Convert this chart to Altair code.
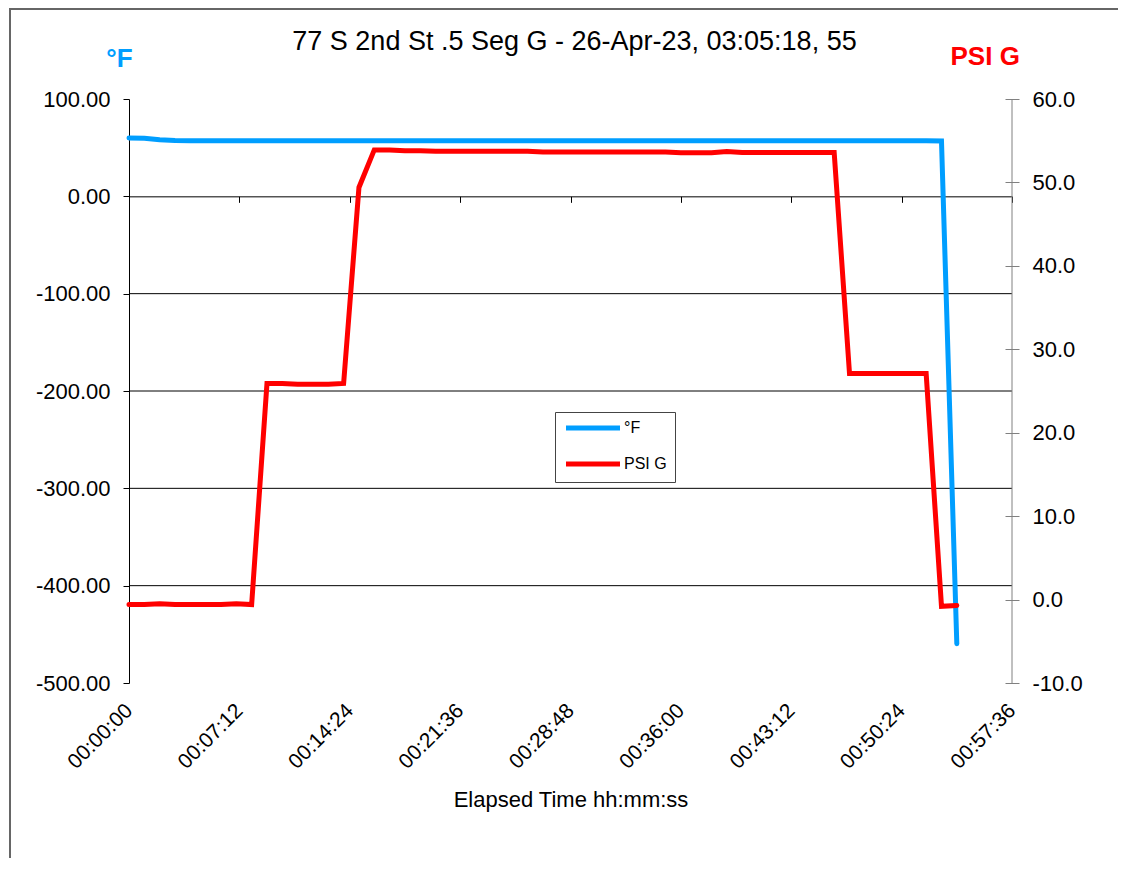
import altair as alt
import pandas as pd

# ---------------- data ----------------
elapsed_min = [0, 1, 2, 3, 4, 5, 6, 7, 8, 9,
               10, 11, 12, 13, 14, 15, 16, 17, 18, 19,
               20, 21, 22, 23, 24, 25, 26, 27, 28, 29,
               30, 31, 32, 33, 34, 35, 36, 37, 38, 39,
               40, 41, 42, 43, 44, 45, 46, 47, 48, 49,
               50, 51, 52, 53, 54]

deg_f = [60.0, 59.7, 58.2, 57.4, 57.2, 57.2, 57.2, 57.2, 57.2, 57.2,
         57.2, 57.2, 57.2, 57.2, 57.2, 57.2, 57.2, 57.2, 57.2, 57.2,
         57.2, 57.2, 57.2, 57.2, 57.2, 57.2, 57.2, 57.2, 57.2, 57.2,
         57.2, 57.2, 57.2, 57.2, 57.2, 57.2, 57.2, 57.2, 57.2, 57.2,
         57.2, 57.2, 57.2, 57.2, 57.2, 57.2, 57.2, 57.2, 57.2, 57.2,
         57.2, 57.2, 57.2, 56.9, -459.7]

psi_g = [-0.6, -0.6, -0.5, -0.6, -0.6, -0.6, -0.6, -0.5, -0.6, 25.9,
         25.9, 25.8, 25.8, 25.8, 25.9, 49.4, 53.9, 53.9, 53.8, 53.8,
         53.75, 53.75, 53.75, 53.75, 53.75, 53.75, 53.75, 53.65, 53.65, 53.65,
         53.65, 53.65, 53.65, 53.65, 53.65, 53.65, 53.55, 53.55, 53.55, 53.7,
         53.6, 53.6, 53.6, 53.6, 53.6, 53.6, 53.6, 27.1, 27.1, 27.1,
         27.1, 27.1, 27.1, -0.8, -0.7]

x_tick_seconds = [0, 432, 864, 1296, 1728, 2160, 2592, 3024, 3456]
left_ticks = [100, 0, -100, -200, -300, -400, -500]
grid_values = [-100, -200, -300, -400]
right_ticks = [60, 50, 40, 30, 20, 10, 0, -10]

series_names = ["°F", "PSI G"]
title_text = "77 S 2nd St .5 Seg G - 26-Apr-23, 03:05:18, 55"

# ---------------- styling ----------------
W, H = 883, 584
FONT = "Liberation Sans"
BLUE = "#009EFF"
RED = "#FF0000"
LW = 5

df = pd.DataFrame({
    "t": [m * 60 for m in elapsed_min],
    "degF": deg_f,
    "psi": psi_g,
})
grid_df = pd.DataFrame({"degF": grid_values})

x_enc = alt.X(
    "t:Q",
    scale=alt.Scale(domain=[0, 3456], nice=False, zero=False),
    axis=alt.Axis(
        values=x_tick_seconds,
        labelExpr="utcFormat(datum.value*1000, '%H:%M:%S')",
        orient="bottom",
        offset=-486.667,
        domain=True, domainColor="black", domainWidth=1,
        ticks=True, tickSize=6, tickColor="black", tickWidth=1,
        labelAngle=-45, labelAlign="right", labelBaseline="middle",
        labelPadding=505, labelFontSize=21, labelFont=FONT, labelColor="black",
        labelOverlap=False, labelFlush=False,
        grid=False,
        title="Elapsed Time hh:mm:ss", titleFont=FONT, titleFontSize=22,
        titleFontWeight="normal", titleColor="black",
        titleX=W / 2, titleY=610.4, titleAlign="center", titleBaseline="alphabetic",
    ),
)

left_scale = alt.Scale(domain=[-500, 100], nice=False, zero=False)
color_scale = alt.Scale(domain=series_names, range=[BLUE, RED])
legend = alt.Legend(
    orient="none", legendX=426, legendY=313, title=None, direction="vertical",
    padding=8, strokeColor="#444444", fillColor="white", cornerRadius=0,
    symbolType="M-5.4,0L5.4,0", symbolSize=100, symbolStrokeWidth=LW,
    symbolOffset=22, labelOffset=23, labelFontSize=16, labelFont=FONT,
    labelColor="black", rowPadding=16,
)

blue_line = alt.Chart(df).transform_calculate(series="'°F'").mark_line(
    strokeWidth=LW, strokeCap="round", strokeJoin="miter"
).encode(
    x=x_enc,
    y=alt.Y(
        "degF:Q",
        scale=left_scale,
        axis=alt.Axis(
            values=left_ticks,
            labelExpr="replace(format(datum.value, '.2f'), '\u2212', '-')",
            orient="left",
            domain=True, domainColor="black", domainWidth=1,
            ticks=True, tickSize=6, tickColor="black",
            labelPadding=13, labelFontSize=22, labelFont=FONT, labelColor="black",
            grid=False,
            title="°F", titleAngle=0, titleX=-10, titleY=-32.5,
            titleAlign="center", titleBaseline="alphabetic",
            titleColor=BLUE, titleFontSize=26, titleFontWeight="bold", titleFont=FONT,
        ),
    ),
    color=alt.Color("series:N", scale=color_scale, legend=legend),
)

grid_rules = alt.Chart(grid_df).mark_rule(color="black", strokeWidth=1).encode(
    y=alt.Y("degF:Q", scale=left_scale),
    x=alt.XDatum(0),
    x2=alt.X2Datum(3456),
)

frame = alt.Chart(alt.Data(values=[{}])).mark_rect(
    fillOpacity=0, stroke="#666666", strokeWidth=2
).encode(
    x=alt.value(-119), x2=alt.value(1300), y=alt.value(-90), y2=alt.value(1000)
)

right_domain = alt.Chart(alt.Data(values=[{}])).mark_rule(color="#808080", strokeWidth=1).encode(
    x=alt.XDatum(3456), y=alt.value(0), y2=alt.value(H)
)

red_line = alt.Chart(df).transform_calculate(series="'PSI G'").mark_line(
    strokeWidth=LW, strokeCap="round", strokeJoin="miter"
).encode(
    x=x_enc,
    y=alt.Y(
        "psi:Q",
        scale=alt.Scale(domain=[-10, 60], nice=False, zero=False),
        axis=alt.Axis(
            values=right_ticks,
            labelExpr="replace(format(datum.value, '.1f'), '\u2212', '-')",
            orient="right", offset=-7,
            domain=False,
            ticks=True, tickSize=14, tickColor="#808080",
            labelPadding=13, labelFontSize=22, labelFont=FONT, labelColor="black",
            grid=False,
            title="PSI G", titleAngle=0, titleX=-20.3, titleY=-35,
            titleAlign="center", titleBaseline="alphabetic",
            titleColor=RED, titleFontSize=26, titleFontWeight="bold", titleFont=FONT,
        ),
    ),
    color=alt.Color("series:N", scale=color_scale, legend=legend),
)

left_group = alt.layer(grid_rules, blue_line, frame, right_domain)
right_group = alt.layer(red_line)

chart = alt.layer(left_group, right_group).resolve_scale(y="independent").properties(
    width=W, height=H,
    autosize=alt.AutoSizeParams(type="none"),
    padding={"left": 121, "top": 91, "right": 106, "bottom": 175},
    title=alt.TitleParams(
        title_text, font=FONT, fontSize=27, fontWeight="normal", color="black",
        anchor="middle", frame="group", baseline="alphabetic", offset=0, dy=69, dx=4,
    ),
).configure(background="white").configure_view(stroke=None)

chart.save("out.html", embed_options={"renderer": "svg", "actions": False})
